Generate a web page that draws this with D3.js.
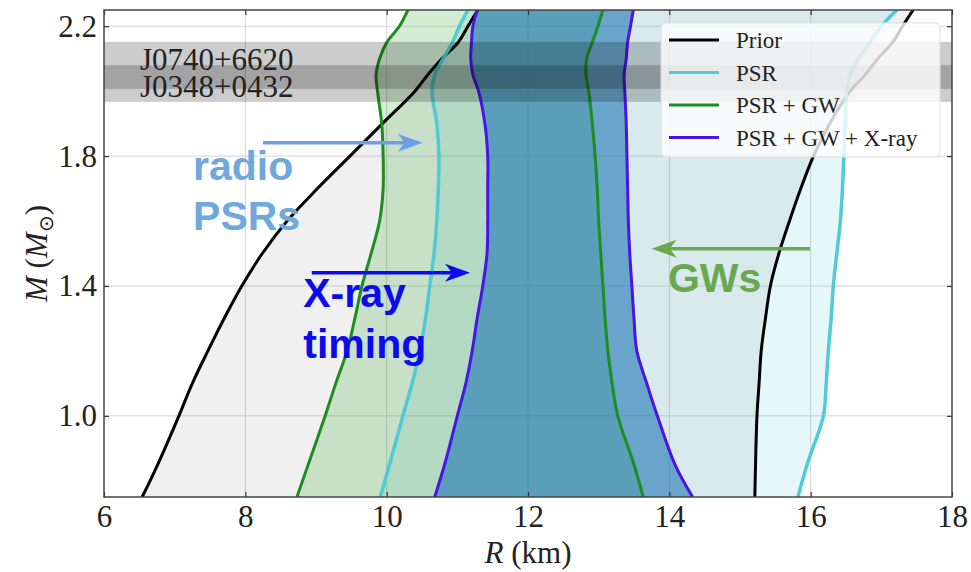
<!DOCTYPE html>
<html>
<head>
<meta charset="utf-8">
<title>Neutron star mass-radius</title>
<script src="https://cdn.jsdelivr.net/npm/d3@7"></script>
<style>
  body { margin: 0; background: #fff; }
  svg { display: block; }
</style>
</head>
<body>
<div id="chart"></div>
<script>
// mass grid (Msun) shared by all contour edges, radius in km
const massGrid   = [0.75, 0.85, 1.0, 1.1, 1.2, 1.3, 1.4, 1.5, 1.6, 1.7, 1.8, 1.9, 2.0, 2.05, 2.1, 2.15, 2.2, 2.25];
const priorLeft  = [6.54, 6.76, 7.06, 7.25, 7.47, 7.70, 7.95, 8.24, 8.59, 9.02, 9.48, 9.94, 10.40, 10.58, 10.78, 11.01, 11.15, 11.29];
const priorRight = [15.21, 15.22, 15.24, 15.27, 15.30, 15.36, 15.43, 15.55, 15.70, 15.86, 16.04, 16.27, 16.56, 16.77, 16.95, 17.16, 17.30, 17.45];
const psrLeft    = [9.91, 10.04, 10.23, 10.36, 10.47, 10.55, 10.61, 10.67, 10.71, 10.73, 10.74, 10.71, 10.64, 10.68, 10.80, 10.93, 11.03, 11.15];
const psrRight   = [15.82, 15.95, 16.18, 16.22, 16.25, 16.29, 16.32, 16.37, 16.42, 16.45, 16.47, 16.49, 16.51, 16.56, 16.68, 16.84, 17.00, 17.22];
const gwLeft     = [8.73, 8.89, 9.13, 9.28, 9.44, 9.55, 9.65, 9.78, 9.90, 9.95, 9.95, 9.93, 9.87, 9.85, 9.90, 10.00, 10.18, 10.30];
const gwRight    = [13.63, 13.50, 13.27, 13.19, 13.13, 13.09, 13.06, 13.03, 13.00, 12.98, 12.95, 12.91, 12.86, 12.82, 12.83, 12.91, 12.99, 13.06];
const xrayLeft   = [10.68, 10.82, 11.00, 11.12, 11.21, 11.28, 11.36, 11.42, 11.43, 11.43, 11.43, 11.39, 11.30, 11.22, 11.19, 11.20, 11.22, 11.28];
const xrayRight  = [14.33, 14.08, 13.83, 13.68, 13.54, 13.50, 13.47, 13.44, 13.42, 13.41, 13.40, 13.39, 13.37, 13.36, 13.39, 13.41, 13.45, 13.49];

// pulsar mass bands
const bandNames = ["J0740+6620", "J0348+0432"];
const bandLow   = [2.007, 1.967];
const bandHigh  = [2.152, 2.080];

const xTicks = [6, 8, 10, 12, 14, 16, 18];
const yTicks = [1.0, 1.4, 1.8, 2.2];

const legendLabels = ["Prior", "PSR", "PSR + GW", "PSR + GW + X-ray"];

const width = 971, height = 572;
const x = d3.scaleLinear().domain([6, 18]).range([104, 952]);
const y = d3.scaleLinear().domain([0.75, 2.25]).range([497, 10]);

const svg = d3.select("#chart").append("svg")
    .attr("width", width)
    .attr("height", height);

svg.append("defs").append("clipPath").attr("id", "plot")
  .append("rect")
    .attr("x", x(6)).attr("y", y(2.25))
    .attr("width", x(18) - x(6)).attr("height", y(0.75) - y(2.25));

// grid
const grid = svg.append("g").attr("stroke", "#d4d4d4").attr("stroke-width", 1);
grid.selectAll("line.v").data(xTicks.slice(1, -1)).join("line")
    .attr("x1", d => x(d)).attr("x2", d => x(d))
    .attr("y1", y(0.75)).attr("y2", y(2.25));
grid.selectAll("line.h").data(yTicks).join("line")
    .attr("y1", d => y(d)).attr("y2", d => y(d))
    .attr("x1", x(6)).attr("x2", x(18));

const sets = [
  {left: priorLeft, right: priorRight, line: "#000000", fill: "#808080", op: 0.12, w: 3},
  {left: psrLeft,   right: psrRight,   line: "#4fcbd3", fill: "#4ec9d0", op: 0.15, w: 3.5},
  {left: gwLeft,    right: gwRight,    line: "#1e8c1e", fill: "#2a9a2a", op: 0.20, w: 3},
  {left: xrayLeft,  right: xrayRight,  line: "#4b14e6", fill: "#1f77b4", op: 0.60, w: 3}
];

const area = d3.area()
    .y((d, i) => y(massGrid[i]))
    .x0(d => x(d[0]))
    .x1(d => x(d[1]))
    .curve(d3.curveCatmullRom);

const line = d3.line()
    .x(d => x(d))
    .y((d, i) => y(massGrid[i]))
    .curve(d3.curveCatmullRom);

const plot = svg.append("g").attr("clip-path", "url(#plot)");

sets.forEach(s => {
  plot.append("path")
      .datum(s.left.map((v, i) => [v, s.right[i]]))
      .attr("fill", s.fill)
      .attr("fill-opacity", s.op)
      .attr("d", area);
});
sets.forEach(s => {
  [s.left, s.right].forEach(edge => {
    plot.append("path")
        .datum(edge)
        .attr("fill", "none")
        .attr("stroke", s.line)
        .attr("stroke-width", s.w)
        .attr("stroke-linejoin", "round")
        .attr("d", line);
  });
});

// mass bands on top
plot.selectAll("rect.band").data(bandNames).join("rect")
    .attr("x", x(6)).attr("width", x(18) - x(6))
    .attr("y", (d, i) => y(bandHigh[i]))
    .attr("height", (d, i) => y(bandLow[i]) - y(bandHigh[i]))
    .attr("fill", "#000").attr("fill-opacity", 0.2);

svg.append("g")
    .attr("font-family", "'Liberation Serif', serif")
    .attr("font-size", 31)
    .attr("fill", "#222")
  .selectAll("text").data(bandNames).join("text")
    .attr("x", x(6.51))
    .attr("y", (d, i) => y([2.065, 1.982][i]))
    .text(d => d);

// axes, inward ticks on all sides
const fmt = d3.format(".1f");
const axB = svg.append("g").attr("transform", `translate(0,${y(0.75)})`)
    .call(d3.axisBottom(x).tickValues(xTicks).tickSize(-5).tickSizeOuter(0).tickPadding(8).tickFormat(d3.format("d")));
const axL = svg.append("g").attr("transform", `translate(${x(6)},0)`)
    .call(d3.axisLeft(y).tickValues(yTicks).tickSize(-5).tickSizeOuter(0).tickPadding(7).tickFormat(fmt));
svg.append("g").attr("transform", `translate(0,${y(2.25)})`)
    .call(d3.axisTop(x).tickValues(xTicks).tickSize(-5).tickSizeOuter(0).tickFormat(""));
svg.append("g").attr("transform", `translate(${x(18)},0)`)
    .call(d3.axisRight(y).tickValues(yTicks).tickSize(-5).tickSizeOuter(0).tickFormat(""));
svg.selectAll(".domain").remove();
svg.selectAll(".tick line").attr("stroke", "#333").attr("stroke-width", 1.2);
[axB, axL].forEach(a => a.selectAll("text")
    .attr("font-family", "'Liberation Serif', serif")
    .attr("font-size", 31)
    .attr("fill", "#222"));

svg.append("rect")
    .attr("x", x(6)).attr("y", y(2.25))
    .attr("width", x(18) - x(6)).attr("height", y(0.75) - y(2.25))
    .attr("fill", "none").attr("stroke", "#444").attr("stroke-width", 1.5);

// axis titles
const xt = svg.append("text")
    .attr("x", (x(6) + x(18)) / 2).attr("y", 563)
    .attr("text-anchor", "middle")
    .attr("font-family", "'Liberation Serif', serif")
    .attr("font-size", 31).attr("fill", "#222");
xt.append("tspan").attr("font-style", "italic").text("R");
xt.append("tspan").text(" (km)");

const yt = svg.append("text")
    .attr("transform", `translate(47,${(y(0.75) + y(2.25)) / 2}) rotate(-90)`)
    .attr("text-anchor", "middle")
    .attr("font-family", "'Liberation Serif', serif")
    .attr("font-size", 31).attr("fill", "#222");
yt.append("tspan").attr("font-style", "italic").text("M");
yt.append("tspan").text(" (");
yt.append("tspan").attr("font-style", "italic").text("M");
yt.append("tspan").attr("font-size", 20).attr("dy", 6).text("\u2299");
yt.append("tspan").attr("dy", -6).text(")");

// legend
const lg = svg.append("g").attr("transform", "translate(661,23)");
lg.append("rect")
    .attr("width", 279).attr("height", 134).attr("rx", 5)
    .attr("fill", "#fff").attr("fill-opacity", 0.8)
    .attr("stroke", "#ddd").attr("stroke-width", 1);
const items = lg.selectAll("g.item").data(legendLabels).join("g")
    .attr("transform", (d, i) => `translate(0,${17 + i * 32.5})`);
items.append("line")
    .attr("x1", 8).attr("x2", 58)
    .attr("stroke", (d, i) => sets[i].line)
    .attr("stroke-width", 3);
items.append("text")
    .attr("x", 75).attr("y", 8)
    .attr("font-family", "'Liberation Serif', serif")
    .attr("font-size", 23).attr("fill", "#222")
    .text(d => d);

// annotations, placed in data units
const notes = [
  {lines: ["radio", "PSRs"], color: "#6fa8dc", r: 7.26, m: [1.727, 1.573],
   arrow: {color: "#6d9eeb", r0: 8.25, r1: 10.51, m: 1.841}},
  {lines: ["X-ray", "timing"], color: "#0b0bee", r: 8.82, m: [1.336, 1.179],
   arrow: {color: "#0b0bee", r0: 8.94, r1: 11.18, m: 1.441}},
  {lines: ["GWs"], color: "#6aa84f", r: 13.98, m: [1.382],
   arrow: {color: "#6aa84f", r0: 15.99, r1: 13.75, m: 1.515}}
];

notes.forEach(n => {
  const a = n.arrow;
  const x0 = x(a.r0), x1 = x(a.r1), yy = y(a.m);
  const dir = Math.sign(x1 - x0);
  svg.append("line")
      .attr("x1", x0).attr("x2", x1 - dir * 14)
      .attr("y1", yy).attr("y2", yy)
      .attr("stroke", a.color).attr("stroke-width", 3.5);
  svg.append("path")
      .attr("d", `M${x1},${yy} L${x1 - dir * 25},${yy - 9} L${x1 - dir * 18},${yy} L${x1 - dir * 25},${yy + 9} Z`)
      .attr("fill", a.color);
  n.lines.forEach((t, i) => {
    svg.append("text")
        .attr("x", x(n.r)).attr("y", y(n.m[i]))
        .attr("font-family", "'Liberation Sans', Arial, sans-serif")
        .attr("font-weight", "bold")
        .attr("font-size", 41)
        .attr("fill", n.color)
        .text(t);
  });
});
</script>
</body>
</html>
